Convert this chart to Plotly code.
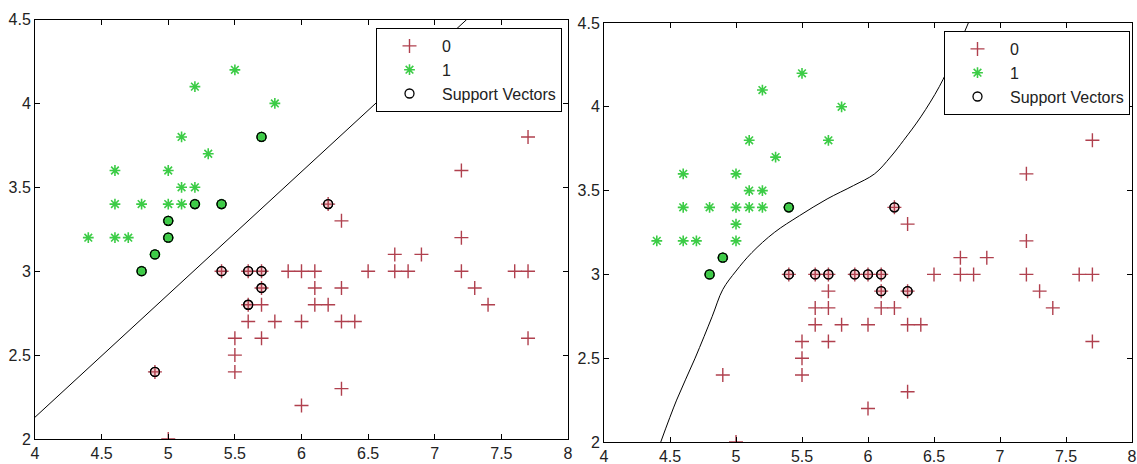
import plotly.graph_objects as go

# ---------------- data ----------------
# class 1 (green *)
c1_x = [4.4, 4.6, 4.7, 4.6, 4.6, 4.8, 4.8, 4.9, 5.0, 5.0, 5.0, 5.0, 5.1, 5.1, 5.1,
        5.2, 5.2, 5.2, 5.3, 5.4, 5.5, 5.7, 5.8]
c1_y = [3.2, 3.2, 3.2, 3.4, 3.6, 3.4, 3.0, 3.1, 3.2, 3.3, 3.4, 3.6, 3.4, 3.5, 3.8,
        3.4, 3.5, 4.1, 3.7, 3.4, 4.2, 3.8, 4.0]
# class 0 (red +)
c0_x = [4.9, 5.0, 5.4, 5.5, 5.5, 5.5, 5.6, 5.6, 5.6, 5.7, 5.7, 5.7, 5.7, 5.8, 5.9,
        6.0, 6.0, 6.0, 6.1, 6.1, 6.1, 6.2, 6.2, 6.3, 6.3, 6.3, 6.3, 6.4, 6.5, 6.7,
        6.7, 6.8, 6.9, 7.2, 7.2, 7.2, 7.3, 7.4, 7.6, 7.7, 7.7, 7.7]
c0_y = [2.4, 2.0, 3.0, 2.4, 2.5, 2.6, 2.7, 2.8, 3.0, 2.6, 2.8, 2.9, 3.0, 2.7, 3.0,
        2.2, 2.7, 3.0, 2.8, 2.9, 3.0, 2.8, 3.4, 2.3, 2.7, 2.9, 3.3, 2.7, 3.0, 3.0,
        3.1, 3.0, 3.1, 3.0, 3.2, 3.6, 2.9, 2.8, 3.0, 2.6, 3.0, 3.8]

# support vectors, left (linear) model
svL1_x = [4.8, 4.9, 5.0, 5.0, 5.2, 5.4, 5.7]
svL1_y = [3.0, 3.1, 3.2, 3.3, 3.4, 3.4, 3.8]
svL0_x = [4.9, 5.4, 5.6, 5.7, 5.7, 5.6, 6.2]
svL0_y = [2.4, 3.0, 3.0, 3.0, 2.9, 2.8, 3.4]
# support vectors, right (rbf) model
svR1_x = [4.8, 4.9, 5.4]
svR1_y = [3.0, 3.1, 3.4]
svR0_x = [5.4, 5.6, 5.7, 5.9, 6.0, 6.1, 6.1, 6.3, 6.2]
svR0_y = [3.0, 3.0, 3.0, 3.0, 3.0, 3.0, 2.9, 2.9, 3.4]

# decision boundaries
bL_x = [4.0, 7.24]
bL_y = [2.13, 4.5]
bR_x = [4.43, 4.55, 4.69, 4.82, 4.90, 5.0, 5.12, 5.29, 5.48, 5.69, 5.89, 6.05,
        6.17, 6.27, 6.40, 6.54, 6.65, 6.76]
bR_y = [2.0, 2.25, 2.5, 2.75, 2.91, 3.02, 3.13, 3.25, 3.35, 3.45, 3.53, 3.60,
        3.70, 3.80, 3.94, 4.12, 4.3, 4.5]

x_ticks = [4, 4.5, 5, 5.5, 6, 6.5, 7, 7.5, 8]
y_ticks = [2, 2.5, 3, 3.5, 4, 4.5]

# ---------------- style ----------------
RED = "#b0404e"
GREEN = "#3ccc46"
FONT = "Liberation Sans, Arial, sans-serif"
W, H = 1137, 464

fig = go.Figure()


def add_panel(xa, ya, legend, bx, by, sv1x, sv1y, sv0x, sv0y, shape):
    # filled backgrounds of the support vectors (behind the class markers)
    fig.add_trace(go.Scatter(
        x=sv1x + sv0x, y=sv1y + sv0y, mode="markers",
        marker=dict(symbol="circle", size=9,
                    color=["#55d35c"] * len(sv1x) + ["#f3cfd2"] * len(sv0x),
                    line=dict(color="black", width=1.3)),
        xaxis=xa, yaxis=ya, showlegend=False, hoverinfo="skip"))
    fig.add_trace(go.Scatter(
        x=c0_x, y=c0_y, mode="markers", name="0",
        marker=dict(symbol="cross-thin-open", size=10, color=RED,
                    line=dict(color=RED, width=1.4)),
        xaxis=xa, yaxis=ya, legend=legend))
    fig.add_trace(go.Scatter(
        x=c1_x, y=c1_y, mode="markers", name="1",
        marker=dict(symbol="asterisk-open", size=9, color=GREEN,
                    line=dict(color=GREEN, width=1.6)),
        xaxis=xa, yaxis=ya, legend=legend))
    fig.add_trace(go.Scatter(
        x=sv1x + sv0x, y=sv1y + sv0y, mode="markers", name="Support Vectors",
        marker=dict(symbol="circle-open", size=9, color="black",
                    line=dict(color="black", width=1.3)),
        xaxis=xa, yaxis=ya, legend=legend))
    fig.add_trace(go.Scatter(
        x=bx, y=by, mode="lines", line=dict(color="black", width=1, shape=shape),
        xaxis=xa, yaxis=ya, showlegend=False, hoverinfo="skip"))


add_panel("x", "y", "legend", bL_x, bL_y, svL1_x, svL1_y, svL0_x, svL0_y, "linear")
add_panel("x2", "y2", "legend2", bR_x, bR_y, svR1_x, svR1_y, svR0_x, svR0_y, "spline")

axis_common = dict(
    showgrid=False, zeroline=False, showline=True, linecolor="black", linewidth=1,
    mirror="ticks", ticks="inside", ticklen=5, tickcolor="black", automargin=False,
    tickfont=dict(family=FONT, size=16, color="#222"),
)

fig.update_layout(
    width=W, height=H,
    margin=dict(l=0, r=0, t=0, b=0, autoexpand=False),
    paper_bgcolor="white", plot_bgcolor="white",
    xaxis=dict(domain=[35 / W, 568 / W], range=[4, 8], tickvals=x_ticks,
               anchor="y", **axis_common),
    yaxis=dict(domain=[1 - 439 / H, 1 - 19.5 / H], range=[2, 4.5], tickvals=y_ticks,
               anchor="x", **axis_common),
    xaxis2=dict(domain=[604 / W, 1132 / W], range=[4, 8], tickvals=x_ticks,
                anchor="y2", **axis_common),
    yaxis2=dict(domain=[1 - 442 / H, 1 - 23 / H], range=[2, 4.5], tickvals=y_ticks,
                anchor="x2", **axis_common),
    legend=dict(x=562 / W, y=1 - 28 / H, xanchor="right", yanchor="top",
                bgcolor="white", bordercolor="black", borderwidth=1,
                font=dict(family=FONT, size=16, color="#222"), itemwidth=55),
    legend2=dict(x=1130 / W, y=1 - 31 / H, xanchor="right", yanchor="top",
                 bgcolor="white", bordercolor="black", borderwidth=1,
                 font=dict(family=FONT, size=16, color="#222"), itemwidth=55),
    showlegend=True,
)

fig.write_html("out.html")
